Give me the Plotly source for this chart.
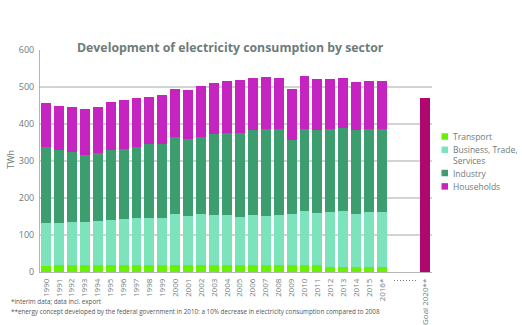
import plotly.graph_objects as go

years = [str(y) for y in range(1990, 2016)] + ["2016*"]
goal_label = "Goal 2020**"

transport = [15.5, 18, 18, 18, 18, 18, 18.5, 18, 18.5, 18, 18, 18, 18, 18, 18, 18, 18, 18, 18.5, 18, 18, 18, 14, 14, 13.5, 14, 14]
business = [116, 114.5, 116.3, 118, 119.8, 123.3, 125.5, 127, 128.2, 128.7, 139.4, 134, 138, 135, 135, 131.4, 136.7, 134, 135.4, 139.4, 147.4, 141.2, 147.9, 150.6, 143, 147.9, 147.9]
industry = [207.4, 196.1, 189.7, 181, 184.6, 189.7, 189, 194, 198.9, 200.3, 207.6, 208.7, 210, 219.4, 223.8, 227.4, 228.3, 234.7, 231.9, 198.6, 221.3, 224.8, 224.8, 223.9, 227.5, 224.8, 225.7]
households = [118, 121.4, 121.5, 124, 123.1, 128, 131, 130, 128.4, 130.6, 128.7, 132.3, 135.7, 137.4, 140.2, 141.8, 140, 140, 137.2, 138.6, 141.8, 138, 135.3, 134.5, 129, 128.3, 127.4]
goal_value = [470.5]

series_names = ["Transport", "Business, Trade,<br>Services", "Industry", "Households"]
series_values = [transport, business, industry, households]
series_colors = ["#66f200", "#7ce3bd", "#3c9d6e", "#c524c0"]
goal_color = "#b0076e"

GREY = "#6e7b7b"
FONT = "Open Sans"

# layout geometry (pixels)
W, H = 522, 325
L, R, T, B = 40, 90, 50, 52.5
pw, ph = W - L - R, H - T - B


def px_x(p):
    return (p - L) / pw


def px_y(p):
    return (H - B - p) / ph


xpos = list(range(len(years)))
goal_x = 29.33
bw = 0.77

fig = go.Figure()
for name, vals, col in zip(series_names, series_values, series_colors):
    fig.add_trace(go.Bar(x=xpos, y=vals, name=name, marker=dict(color=col, line=dict(width=0)),
                         width=bw, showlegend=False))
fig.add_trace(go.Bar(x=[goal_x], y=goal_value, name=goal_label, marker=dict(color=goal_color, line=dict(width=0)),
                     width=bw, showlegend=False))

annotations = []
shapes = []

# Title
annotations.append(dict(xref="paper", yref="paper", x=px_x(74), y=px_y(47), xanchor="left", yanchor="middle",
                        text="<b>Development of electricity consumption by sector</b>", showarrow=False,
                        font=dict(family=FONT, size=12.3, color=GREY), bgcolor="white", width=370, align="left",
                        borderpad=2))
# Y-axis unit
annotations.append(dict(xref="paper", yref="paper", x=px_x(11), y=px_y(160), text="TWh", textangle=-90,
                        xanchor="center", yanchor="middle",
                        showarrow=False, font=dict(family=FONT, size=9, color=GREY)))
# footnotes
annotations.append(dict(xref="paper", yref="paper", x=px_x(9), y=px_y(302), xanchor="left", yanchor="middle",
                        text="*interim data; data incl. export", showarrow=False,
                        font=dict(family=FONT, size=6.3, color="#555")))
annotations.append(dict(xref="paper", yref="paper", x=px_x(9), y=px_y(312), xanchor="left", yanchor="middle",
                        text="**energy concept developed by the federal government in 2010: a 10% decrease in electricity consumption compared to 2008",
                        showarrow=False, font=dict(family=FONT, size=6.3, color="#555")))

# Legend (manual, compact)
legend_y = [136.7, 150, 173.3, 186.7]
legend_text_y = [136.7, 155.3, 173.3, 186.7]
for name, col, sy, ty in zip(series_names, series_colors, legend_y, legend_text_y):
    shapes.append(dict(type="rect", xref="paper", yref="paper", x0=px_x(441.5), x1=px_x(448), y0=px_y(sy - 3.25),
                       y1=px_y(sy + 3.25), fillcolor=col, line=dict(width=0)))
    annotations.append(dict(xref="paper", yref="paper", x=px_x(451), y=px_y(ty), xanchor="left", yanchor="middle",
                            text=name, showarrow=False, align="left",
                            font=dict(family=FONT, size=8.5, color=GREY)))

# dotted separator label
shapes.append(dict(type="line", xref="x", yref="paper", x0=26.93, x1=28.63, y0=px_y(281), y1=px_y(281),
                   line=dict(color="#777", width=1, dash="1px,2px")))

fig.update_layout(
    width=W, height=H,
    margin=dict(l=L, r=R, t=T, b=B, pad=0, autoexpand=False),
    barmode="stack",
    bargap=0,
    plot_bgcolor="white", paper_bgcolor="white",
    showlegend=False,
    annotations=annotations,
    shapes=shapes,
    font=dict(family=FONT, color=GREY),
    xaxis=dict(range=[-0.47, 29.87], tickvals=xpos + [goal_x], ticktext=years + [goal_label],
               tickangle=-90, tickfont=dict(family=FONT, size=8, color=GREY), showgrid=False,
               showline=True, linecolor="#b5b5b5", linewidth=1, ticks="outside", ticklen=2.5,
               tickcolor="rgba(0,0,0,0)", zeroline=False, automargin=False),
    yaxis=dict(range=[0, 600], tickvals=[0, 100, 200, 300, 400, 500, 600], showgrid=True,
               gridcolor="#d2d4d4", gridwidth=1.5, zeroline=False, showline=True, linecolor="#b5b5b5",
               linewidth=1, tickfont=dict(family=FONT, size=9, color=GREY), ticks="outside", ticklen=3,
               tickcolor="rgba(0,0,0,0)", automargin=False),
)

fig.write_html("out.html")
